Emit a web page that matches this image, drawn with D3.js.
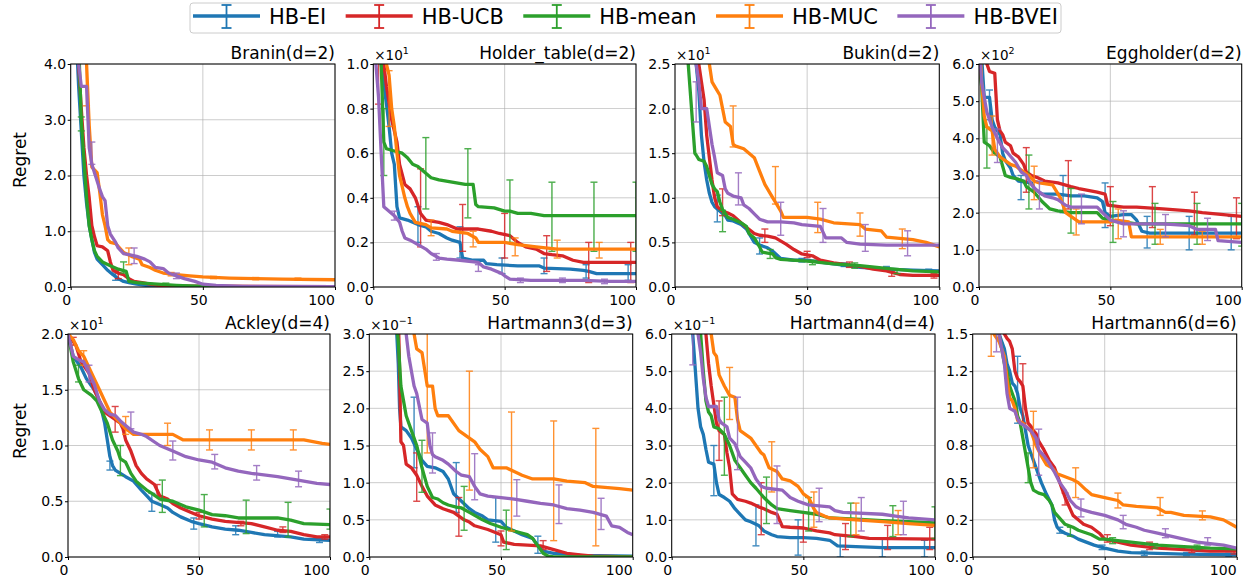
<!DOCTYPE html>
<html><head><meta charset="utf-8">
<script src="https://cdn.jsdelivr.net/npm/d3@7"></script>
<style>body{margin:0;background:#fff}</style>
</head><body>
<script>
// ---------- data ----------
const seriesNames = ["HB-EI","HB-UCB","HB-mean","HB-MUC","HB-BVEI"];
const seriesColors = ["#1f77b4","#d62728","#2ca02c","#ff7f0e","#9467bd"];
const panelTitles = ["Branin(d=2)","Holder_table(d=2)","Bukin(d=2)","Eggholder(d=2)","Ackley(d=4)","Hartmann3(d=3)","Hartmann4(d=4)","Hartmann6(d=6)"];
const panelYMax = [4, 1, 2.5, 6, 2, 3, 6, 1.5];
const panelYTicks = [[0,1,2,3,4],[0,.2,.4,.6,.8,1],[0,.5,1,1.5,2,2.5],[0,1,2,3,4,5,6],[0,.5,1,1.5,2],[0,.5,1,1.5,2,2.5,3],[0,1,2,3,4,5,6],[0,.25,.5,.75,1,1.25,1.5]];
const hartmann6TickLabels = ["0.0","0.2","0.5","0.8","1.0","1.2","1.5"];
const panelOffsetExp = [null,"1","1","2","1","\u22121","\u22121",null];
const xTicks = [0,50,100];
const yLabelText = "Regret";

// line data: [iteration, regret] ; order EI, UCB, mean, MUC, BVEI
const braninLines = [
 [[0,9],[2,4.6],[3,3.6],[4,2.8],[5,2.0],[6,1.5],[7,1.1],[8,0.85],[9,0.62],[10,0.5],[12,0.4],[14,0.3],[16,0.22],[18,0.15],[20,0.1],[22,0.08],[25,0.05],[30,0.02],[40,0.01],[100,0.005]],
 [[0,9],[2,5],[3,4],[4,3.2],[5,2.5],[6,2.0],[7,1.6],[8,1.1],[9,0.9],[10,0.74],[12,0.72],[14,0.65],[15,0.45],[16,0.3],[18,0.25],[20,0.22],[22,0.15],[24,0.1],[27,0.08],[30,0.05],[35,0.02],[100,0.005]],
 [[0,9],[3,4.4],[4,3.0],[5,2.3],[6,1.6],[7,1.1],[8,0.85],[9,0.65],[10,0.55],[12,0.45],[15,0.38],[18,0.32],[21,0.28],[22,0.1],[25,0.08],[30,0.06],[40,0.03],[50,0.01],[100,0.005]],
 [[0,12],[5,4.6],[6,4.0],[7,2.9],[8,2.15],[10,2.05],[11,1.7],[12,1.3],[13,1.1],[14,0.85],[15,0.8],[17,0.78],[20,0.62],[23,0.55],[26,0.5],[27,0.4],[30,0.35],[32,0.3],[35,0.25],[40,0.22],[45,0.2],[50,0.18],[60,0.16],[70,0.15],[80,0.14],[100,0.13]],
 [[0,9],[3,4.0],[4,3.6],[6,3.6],[7,2.5],[8,2.2],[9,2.05],[10,1.9],[11,1.75],[12,1.62],[13,1.55],[14,1.1],[15,0.95],[17,0.8],[18,0.7],[20,0.6],[22,0.58],[25,0.55],[28,0.5],[30,0.45],[32,0.35],[35,0.33],[37,0.25],[40,0.2],[43,0.15],[47,0.1],[50,0.05],[55,0.03],[65,0.01],[100,0.005]]
];
// error bars: [iteration, low, high]
const braninErrors = [
 [[17,0.12,0.25]],
 [[18,0.15,0.3],[34,0,0.03]],
 [[4,2.8,3.05],[20,0.25,0.45],[36,0.03,0.07]],
 [[6,3.25,4.8],[22,0.4,0.7],[38,0.2,0.26],[54,0.15,0.19],[70,0.13,0.17],[86,0.12,0.16]],
 [[8,2.2,2.6],[24,0.42,0.7],[40,0.15,0.25],[56,0.02,0.04]]
];

const holderLines = [
 [[0,2],[2,1.2],[3,1.0],[5,0.82],[6,0.72],[7,0.6],[8,0.55],[9,0.36],[10,0.31],[13,0.3],[15,0.29],[17,0.28],[20,0.27],[22,0.25],[25,0.24],[28,0.22],[30,0.21],[33,0.2],[34,0.13],[38,0.12],[42,0.12],[43,0.105],[47,0.1],[55,0.095],[63,0.095],[65,0.085],[75,0.08],[80,0.075],[82,0.07],[85,0.06],[100,0.06]],
 [[0,2],[3,1.1],[4,1.0],[5,0.9],[7,0.75],[8,0.7],[9,0.65],[10,0.55],[12,0.46],[14,0.44],[16,0.4],[18,0.33],[20,0.3],[25,0.29],[28,0.28],[32,0.26],[40,0.26],[45,0.25],[48,0.24],[52,0.23],[55,0.2],[58,0.18],[62,0.17],[65,0.15],[68,0.145],[72,0.14],[76,0.12],[80,0.11],[100,0.11]],
 [[0,2],[2,1.2],[3,1.0],[4,0.65],[5,0.62],[8,0.61],[11,0.6],[13,0.58],[15,0.55],[17,0.54],[20,0.51],[22,0.49],[25,0.48],[30,0.47],[35,0.46],[38,0.46],[39,0.37],[40,0.36],[46,0.355],[50,0.34],[52,0.34],[55,0.33],[60,0.33],[65,0.32],[100,0.32]],
 [[0,2],[4,1.1],[5,1.0],[6,0.95],[7,0.8],[8,0.72],[9,0.6],[10,0.5],[11,0.45],[12,0.4],[13,0.36],[14,0.33],[16,0.29],[20,0.28],[22,0.265],[28,0.26],[30,0.25],[36,0.24],[39,0.22],[40,0.2],[50,0.2],[55,0.19],[62,0.18],[70,0.17],[100,0.17]],
 [[0,1.5],[1,1.0],[2,0.85],[3,0.6],[4,0.36],[5,0.35],[6,0.34],[8,0.32],[10,0.29],[11,0.25],[12,0.22],[14,0.21],[17,0.19],[20,0.17],[22,0.15],[25,0.13],[28,0.125],[33,0.12],[40,0.11],[42,0.09],[45,0.08],[49,0.06],[50,0.05],[52,0.035],[60,0.03],[70,0.03],[80,0.03],[90,0.025],[100,0.025]]
];
const holderErrors = [
 [[17,0.2,0.36],[33,0.13,0.27],[49,0.06,0.13],[65,0.06,0.13],[81,0.04,0.1],[97,0.03,0.1]],
 [[2,0.82,1.1],[18,0.18,0.53],[34,0.16,0.37],[50,0.13,0.33],[66,0.07,0.23],[82,0.02,0.2],[98,0.02,0.2]],
 [[4,0.5,0.8],[20,0.35,0.67],[36,0.31,0.62],[52,0.2,0.48],[68,0.16,0.47],[84,0.16,0.47],[100,0.16,0.47]],
 [[6,0.72,0.97],[22,0.23,0.3],[38,0.18,0.25],[54,0.14,0.22],[70,0.13,0.21],[86,0.13,0.2]],
 [[8,0.3,0.34],[24,0.12,0.15],[40,0.07,0.1],[56,0.02,0.04],[72,0.02,0.04],[88,0.015,0.035]]
];

const bukinLines = [
 [[0,5],[7,2.7],[8,2.5],[9,2.2],[10,1.7],[11,1.4],[12,1.2],[13,1.05],[14,0.95],[15,0.9],[17,0.85],[19,0.8],[20,0.75],[22,0.74],[25,0.7],[27,0.65],[28,0.6],[30,0.5],[32,0.47],[35,0.44],[37,0.4],[40,0.32],[45,0.3],[50,0.3],[55,0.28],[60,0.26],[70,0.22],[80,0.2],[90,0.19],[100,0.18]],
 [[0,5],[8,2.7],[9,2.5],[10,2.3],[11,2.1],[12,1.7],[13,1.45],[14,1.2],[15,1.0],[16,0.9],[18,0.85],[20,0.83],[22,0.8],[25,0.72],[27,0.67],[30,0.6],[32,0.58],[35,0.57],[38,0.55],[42,0.48],[45,0.42],[48,0.37],[52,0.35],[55,0.3],[60,0.27],[65,0.25],[70,0.23],[75,0.2],[80,0.18],[85,0.14],[90,0.13],[100,0.13]],
 [[0,5],[4,2.8],[5,2.5],[6,2.1],[7,1.7],[7.5,1.5],[8,1.48],[9,1.43],[11,1.41],[12,1.35],[13,1.25],[14,1.15],[15,1.1],[16,1.07],[17,0.95],[18,0.87],[20,0.78],[22,0.76],[25,0.72],[27,0.68],[28,0.6],[30,0.55],[32,0.45],[33,0.39],[35,0.38],[37,0.37],[38,0.33],[40,0.31],[50,0.29],[60,0.26],[70,0.24],[80,0.21],[90,0.18],[100,0.17]],
 [[0,6],[12,2.8],[13,2.5],[14,2.3],[15,2.25],[17,2.15],[18,2.0],[19,1.85],[21,1.8],[22,1.6],[23,1.58],[26,1.55],[28,1.5],[30,1.45],[32,1.3],[34,1.15],[35,1.1],[37,1.0],[38,0.95],[40,0.85],[41,0.78],[50,0.78],[55,0.76],[60,0.72],[70,0.7],[72,0.65],[78,0.63],[80,0.56],[90,0.53],[95,0.5],[100,0.45]],
 [[0,5],[7,2.7],[8,2.5],[9,2.3],[10,2.0],[12,2.0],[13,1.8],[14,1.6],[15,1.45],[16,1.28],[18,1.25],[19,1.1],[20,1.05],[22,1.02],[25,1.0],[26,0.92],[28,0.88],[30,0.82],[32,0.76],[35,0.73],[40,0.73],[45,0.72],[48,0.7],[55,0.68],[57,0.55],[60,0.55],[63,0.55],[65,0.5],[70,0.48],[80,0.47],[100,0.47]]
];
const bukinErrors = [
 [[16,0.73,1.03],[32,0.37,0.55],[48,0.28,0.32],[64,0.23,0.27],[80,0.2,0.23],[96,0.17,0.2]],
 [[18,0.8,1.1],[34,0.5,0.65],[50,0.33,0.4],[66,0.22,0.28],[82,0.12,0.17],[98,0.1,0.15]],
 [[18,0.62,0.86],[36,0.32,0.42],[52,0.25,0.3],[68,0.21,0.27],[84,0.15,0.2]],
 [[22,1.57,2.03],[38,0.93,1.35],[54,0.61,0.95],[70,0.57,0.83],[86,0.43,0.65]],
 [[8,1.85,2.3],[24,0.92,1.28],[40,0.58,0.95],[56,0.5,0.88],[72,0.4,0.7],[88,0.35,0.63]]
];

const eggLines = [
 [[0,8],[1,6.2],[2,5.1],[4,5.1],[5,4.5],[6,4.3],[8,4.1],[9,3.6],[10,3.4],[12,3.2],[13,3.0],[15,2.85],[20,2.8],[21,2.65],[24,2.5],[30,2.5],[35,2.45],[40,2.45],[45,2.4],[47,2.3],[48,2.0],[50,1.9],[55,1.95],[58,1.95],[60,1.8],[62,1.5],[65,1.45],[100,1.45]],
 [[0,8],[3,6.0],[4,5.8],[6,5.75],[7,4.5],[8,4.2],[9,4.1],[10,3.9],[12,3.8],[13,3.6],[15,3.5],[17,3.3],[18,3.1],[20,3.0],[22,2.95],[25,2.85],[30,2.8],[35,2.7],[38,2.65],[45,2.55],[48,2.5],[49,2.2],[55,2.15],[60,2.15],[70,2.1],[80,2.05],[85,2.0],[100,1.9]],
 [[0,6],[1,5.4],[2,3.9],[4,3.8],[6,3.6],[8,3.5],[9,3.25],[10,3.0],[12,2.95],[15,2.9],[17,2.85],[18,2.7],[21,2.55],[24,2.3],[27,2.1],[30,2.05],[35,2.0],[45,2.0],[47,1.85],[50,1.8],[60,1.7],[100,1.7]],
 [[0,7],[1,5.5],[2,4.6],[3,4.3],[5,4.2],[6,3.7],[8,3.5],[10,3.4],[12,3.3],[14,3.25],[17,3.1],[19,3.0],[21,2.85],[23,2.8],[28,2.75],[31,2.4],[33,2.0],[35,1.9],[38,1.75],[50,1.75],[52,1.8],[57,1.75],[58,1.35],[100,1.35]],
 [[0,6.5],[1,5.5],[3,4.7],[5,4.3],[7,4.0],[9,3.75],[11,3.6],[14,3.35],[16,3.1],[18,3.0],[20,2.75],[22,2.6],[25,2.45],[28,2.4],[30,2.35],[33,2.2],[35,2.15],[45,2.15],[47,2.0],[50,1.8],[55,1.7],[70,1.7],[80,1.65],[83,1.55],[90,1.55],[91,1.25],[100,1.2]]
];
const eggErrors = [
 [[4,4.5,5.3],[16,2.35,3.0],[32,2.0,3.0],[48,1.6,2.8],[64,1.05,1.9],[80,1.0,1.9],[96,1.0,1.9]],
 [[18,2.55,3.75],[34,2.1,3.4],[50,1.65,2.7],[66,1.6,2.7],[82,1.4,2.55],[98,1.3,2.4]],
 [[3,3.2,4.3],[19,2.1,3.55],[35,1.45,2.65],[51,1.2,2.3],[67,1.15,2.25],[83,1.15,2.25],[100,1.1,2.25]],
 [[5,3.55,4.6],[21,2.35,3.25],[37,1.4,2.1],[53,1.3,2.1],[69,1.15,1.55],[85,1.15,1.5]],
 [[7,3.35,4.25],[23,2.1,2.85],[39,1.7,2.5],[55,1.35,2.05],[71,1.35,1.95],[87,1.25,1.85]]
];

const ackleyLines = [
 [[0,2.0],[2,1.8],[5,1.7],[7,1.6],[10,1.5],[12,1.4],[13,1.3],[14,1.2],[15,1.05],[16,0.9],[17,0.82],[18,0.78],[20,0.75],[22,0.72],[25,0.68],[28,0.6],[30,0.55],[32,0.5],[35,0.47],[38,0.44],[40,0.4],[43,0.36],[47,0.32],[50,0.3],[55,0.27],[60,0.25],[65,0.24],[70,0.22],[75,0.2],[85,0.18],[90,0.16],[100,0.15]],
 [[0,2.0],[3,1.9],[5,1.75],[8,1.65],[10,1.5],[12,1.4],[14,1.3],[17,1.25],[20,1.2],[21,1.15],[22,1.05],[24,0.95],[26,0.82],[28,0.75],[30,0.7],[33,0.65],[35,0.55],[38,0.52],[40,0.48],[43,0.44],[47,0.4],[50,0.37],[55,0.34],[60,0.32],[70,0.3],[75,0.27],[80,0.24],[85,0.23],[90,0.2],[95,0.18],[100,0.18]],
 [[0,2.0],[2,1.75],[4,1.6],[6,1.5],[9,1.45],[11,1.4],[13,1.3],[15,1.2],[17,1.05],[19,0.95],[20,0.88],[22,0.85],[24,0.75],[26,0.68],[28,0.64],[30,0.6],[32,0.57],[35,0.52],[40,0.5],[45,0.45],[50,0.42],[55,0.38],[60,0.37],[65,0.35],[80,0.35],[85,0.33],[90,0.3],[100,0.29]],
 [[0,2.0],[2,1.95],[4,1.85],[6,1.8],[8,1.7],[10,1.6],[12,1.5],[14,1.4],[16,1.3],[18,1.25],[20,1.2],[22,1.15],[25,1.1],[40,1.1],[44,1.05],[90,1.05],[97,1.02],[100,1.01]],
 [[0,2.0],[2,1.8],[4,1.77],[6,1.75],[8,1.65],[10,1.55],[12,1.4],[14,1.32],[16,1.28],[18,1.27],[20,1.22],[22,1.18],[25,1.12],[28,1.1],[30,1.08],[35,1.0],[40,0.95],[45,0.9],[50,0.87],[55,0.85],[60,0.8],[65,0.77],[70,0.75],[80,0.72],[85,0.7],[90,0.68],[95,0.66],[100,0.65]]
];
const ackleyErrors = [
 [[16,0.78,0.86],[32,0.41,0.57],[48,0.25,0.35],[64,0.2,0.28],[80,0.18,0.23],[96,0.13,0.17]],
 [[2,1.9,1.97],[18,1.12,1.35],[34,0.55,0.65],[50,0.34,0.4],[66,0.28,0.32],[82,0.22,0.27],[98,0.16,0.2]],
 [[4,1.57,1.72],[20,0.73,1.0],[36,0.4,0.69],[52,0.27,0.56],[68,0.21,0.51],[84,0.18,0.49],[100,0.25,0.43]],
 [[6,1.72,1.85],[22,1.1,1.26],[38,1.0,1.2],[54,0.96,1.14],[70,0.96,1.14],[86,0.96,1.14]],
 [[8,1.57,1.72],[24,1.15,1.3],[40,0.87,1.04],[56,0.79,0.92],[72,0.69,0.82],[88,0.63,0.77]]
];

const hart3Lines = [
 [[0,6],[10,3.3],[11,2.6],[11.5,2.0],[12,1.75],[14,1.7],[16,1.6],[18,1.45],[20,1.3],[22,1.22],[25,1.2],[28,1.15],[30,1.05],[32,0.85],[35,0.75],[38,0.65],[40,0.6],[43,0.55],[45,0.5],[50,0.48],[52,0.4],[55,0.35],[58,0.3],[62,0.25],[64,0.15],[66,0.08],[70,0.05],[75,0.04],[80,0.02],[100,0.01]],
 [[0,6],[11,3.3],[11.5,2.5],[12,1.55],[13,1.5],[14,1.25],[16,1.2],[18,1.1],[20,0.95],[22,0.82],[25,0.7],[28,0.65],[32,0.6],[34,0.55],[36,0.5],[38,0.47],[40,0.42],[45,0.37],[50,0.3],[51,0.2],[55,0.17],[60,0.16],[65,0.15],[70,0.1],[75,0.05],[80,0.03],[85,0.01],[100,0]],
 [[0,6],[10,3.3],[11,2.9],[12,2.3],[13,2.1],[14,1.9],[16,1.7],[18,1.5],[20,1.2],[22,0.95],[24,0.8],[26,0.78],[28,0.73],[30,0.7],[33,0.67],[35,0.66],[38,0.6],[40,0.56],[43,0.5],[46,0.45],[50,0.4],[53,0.37],[56,0.34],[60,0.3],[62,0.25],[64,0.15],[66,0.05],[68,0.01],[70,0],[100,0]],
 [[0,8],[16,3.3],[17,3.0],[18,2.8],[20,2.75],[22,2.3],[24,2.3],[25,2.0],[26,1.9],[30,1.9],[34,1.7],[38,1.6],[40,1.55],[42,1.45],[45,1.35],[47,1.2],[52,1.2],[55,1.15],[58,1.1],[62,1.05],[70,1.05],[75,1.02],[82,1.0],[85,0.95],[95,0.92],[100,0.9]],
 [[0,7],[13,3.3],[14,3.0],[15,2.7],[16,2.5],[17,2.3],[18,2.2],[20,1.85],[22,1.8],[23,1.5],[24,1.38],[25,1.35],[28,1.3],[30,1.25],[33,1.15],[35,1.1],[38,1.08],[40,0.95],[42,0.85],[45,0.82],[50,0.8],[55,0.78],[60,0.75],[65,0.72],[70,0.7],[75,0.65],[80,0.63],[85,0.6],[90,0.55],[92,0.42],[95,0.4],[98,0.33],[100,0.3]]
];
const hart3Errors = [
 [[17,1.2,2.15],[33,0.6,1.27],[48,0.2,0.8],[64,0.05,0.28]],
 [[18,0.75,1.4],[34,0.28,0.8],[50,0.15,0.35],[66,0.1,0.22]],
 [[20,0.87,1.57],[36,0.36,0.95],[52,0.1,0.63]],
 [[22,1.4,3.5],[38,0.9,2.5],[54,0.35,1.95],[70,0.22,1.83],[86,0.15,1.73]],
 [[24,1.13,1.67],[40,0.77,1.39],[56,0.55,1.04],[72,0.45,0.97],[88,0.37,0.79]]
];

const hart4Lines = [
 [[0,12],[7,6.8],[8,6.0],[9,5.0],[10,4.0],[11,3.5],[12,3.3],[13,2.9],[14,2.55],[16,2.5],[17,2.0],[18,1.68],[20,1.6],[22,1.5],[24,1.3],[26,1.15],[28,1.0],[30,0.95],[33,0.85],[35,0.7],[38,0.6],[40,0.55],[45,0.52],[50,0.52],[55,0.5],[60,0.45],[63,0.3],[70,0.28],[80,0.25],[100,0.25]],
 [[0,12],[12,6.5],[13,6.0],[14,5.2],[15,4.6],[16,4.1],[17,3.6],[18,3.4],[20,3.3],[21,2.8],[22,2.4],[23,1.7],[25,1.55],[28,1.5],[30,1.45],[33,1.35],[35,1.3],[38,1.2],[40,1.15],[42,0.82],[45,0.8],[50,0.78],[55,0.7],[60,0.65],[62,0.6],[70,0.55],[75,0.5],[100,0.48]],
 [[0,12],[10,6.5],[11,6.0],[12,5.0],[13,4.2],[14,3.9],[15,3.8],[16,3.5],[18,3.45],[20,3.3],[22,3.0],[24,2.6],[26,2.4],[28,2.2],[30,2.0],[32,1.85],[35,1.6],[38,1.4],[40,1.3],[45,1.25],[50,1.2],[55,1.15],[60,1.05],[70,1.02],[80,0.98],[90,0.95],[100,0.92]],
 [[0,12],[14,6.5],[15,6.0],[16,5.5],[17,5.4],[18,4.9],[20,4.6],[22,4.35],[24,4.3],[25,3.7],[26,3.4],[28,3.3],[30,3.2],[32,3.0],[34,2.8],[35,2.75],[37,2.4],[40,2.3],[42,2.1],[45,2.05],[48,1.9],[50,1.7],[52,1.6],[54,1.3],[55,1.2],[58,1.1],[60,1.05],[70,1.0],[80,0.95],[90,0.9],[100,0.85]],
 [[0,12],[9,6.5],[10,6.0],[11,5.5],[12,4.8],[13,4.3],[14,4.05],[17,4.05],[18,3.7],[19,3.6],[21,3.5],[22,3.2],[24,3.05],[26,2.7],[28,2.55],[30,2.4],[32,2.1],[34,1.9],[36,1.85],[42,1.8],[45,1.6],[48,1.5],[50,1.45],[52,1.4],[60,1.35],[62,1.25],[65,1.2],[80,1.15],[85,1.1],[90,1.05],[100,1.0]]
];
const hart4Errors = [
 [[16,1.65,3.0],[32,0.3,1.4],[48,0.05,1.0],[64,0,0.6],[80,0,0.5],[96,0,0.45]],
 [[18,2.6,4.2],[34,0.6,2.0],[50,0.4,1.2],[66,0.2,0.9],[82,0.2,0.85],[98,0.2,0.8]],
 [[20,2.2,4.3],[36,0.9,2.15],[52,0.7,1.6],[68,0.55,1.45],[84,0.55,1.38],[100,0.5,1.35]],
 [[22,3.7,5.1],[38,1.75,3.1],[54,0.8,1.75],[70,0.6,1.45],[86,0.6,1.25]],
 [[8,5.17,6.5],[25,2.35,4.3],[40,0.9,2.45],[56,0.95,1.85],[72,0.7,1.6],[88,0.6,1.5]]
];

const hart6Lines = [
 [[0,3],[9,1.6],[10,1.5],[11,1.45],[12,1.4],[13,1.3],[14,1.25],[15,1.17],[16,1.15],[17,1.1],[18,1.0],[19,0.95],[20,0.85],[21,0.75],[22,0.7],[23,0.65],[24,0.6],[25,0.55],[26,0.5],[28,0.42],[30,0.35],[31,0.25],[32,0.2],[33,0.18],[35,0.16],[38,0.14],[40,0.12],[43,0.1],[46,0.08],[50,0.06],[55,0.04],[60,0.03],[70,0.025],[80,0.02],[100,0.015]],
 [[0,3],[11,1.6],[12,1.5],[13,1.47],[14,1.45],[15,1.4],[16,1.25],[17,1.2],[18,1.18],[19,1.15],[20,1.0],[21,0.9],[22,0.88],[23,0.85],[24,0.83],[25,0.78],[27,0.72],[29,0.65],[31,0.6],[33,0.5],[35,0.4],[37,0.32],[38,0.28],[40,0.25],[42,0.22],[45,0.2],[48,0.16],[50,0.12],[55,0.1],[60,0.08],[70,0.06],[80,0.05],[90,0.04],[100,0.04]],
 [[0,3],[9,1.6],[10,1.5],[12,1.3],[13,1.25],[14,1.15],[15,1.1],[16,1.05],[17,0.95],[18,0.9],[19,0.8],[20,0.7],[21,0.6],[22,0.5],[23,0.45],[25,0.43],[27,0.42],[29,0.38],[30,0.35],[31,0.3],[32,0.28],[35,0.22],[38,0.2],[40,0.18],[45,0.15],[48,0.12],[50,0.12],[55,0.11],[60,0.1],[70,0.08],[80,0.07],[90,0.06],[100,0.055]],
 [[0,3],[6,1.6],[7,1.55],[8,1.5],[10,1.45],[12,1.35],[13,1.2],[14,1.07],[15,1.05],[16,1.0],[17,0.92],[19,0.9],[20,0.88],[22,0.85],[24,0.75],[26,0.68],[28,0.62],[30,0.6],[32,0.56],[35,0.54],[38,0.52],[40,0.5],[43,0.45],[45,0.42],[50,0.4],[55,0.38],[57,0.35],[62,0.34],[70,0.33],[73,0.3],[75,0.3],[80,0.28],[90,0.27],[95,0.25],[98,0.22],[100,0.2]],
 [[0,3],[9,1.6],[10,1.5],[11,1.4],[12,1.3],[13,1.1],[14,1.0],[16,0.98],[17,0.93],[18,0.9],[20,0.88],[22,0.85],[24,0.8],[25,0.72],[27,0.68],[29,0.63],[31,0.57],[33,0.5],[35,0.45],[37,0.38],[39,0.34],[41,0.32],[45,0.3],[50,0.28],[55,0.25],[58,0.22],[62,0.2],[65,0.18],[70,0.16],[75,0.14],[80,0.12],[85,0.1],[90,0.09],[95,0.08],[100,0.06]]
];
const hart6Errors = [
 [[17,0.9,1.35],[33,0.16,0.2],[49,0.05,0.08],[65,0.01,0.04],[81,0.01,0.03],[97,0.005,0.025]],
 [[19,0.9,1.3],[35,0.35,0.43],[51,0.1,0.15],[67,0.05,0.1],[83,0.03,0.07],[99,0.02,0.06]],
 [[21,0.5,0.7],[37,0.14,0.2],[53,0.09,0.13],[69,0.06,0.09],[85,0.05,0.08]],
 [[7,1.35,1.6],[23,0.6,0.98],[39,0.4,0.6],[55,0.33,0.43],[71,0.28,0.4],[87,0.25,0.31]],
 [[9,1.38,1.6],[25,0.55,0.86],[41,0.27,0.39],[57,0.19,0.28],[73,0.13,0.19],[89,0.08,0.13]]
];

const allLines = [braninLines, holderLines, bukinLines, eggLines, ackleyLines, hart3Lines, hart4Lines, hart6Lines];
const allErrors = [braninErrors, holderErrors, bukinErrors, eggErrors, ackleyErrors, hart3Errors, hart4Errors, hart6Errors];

// ---------- layout ----------
const W = 1256, H = 581;
const boxes = [
 [70.7,335,64,287],[373.3,636,64,287],[675,939.3,64,287],[979,1241.7,64,287],
 [68,330,334,557],[369.3,632.7,334,557],[671.7,935,334,557],[972.7,1236.7,334,557]
];
const FONT = "'DejaVu Sans', sans-serif";
const svg = d3.select("body").append("svg").attr("width", W).attr("height", H)
  .style("font-family", FONT);
svg.append("rect").attr("width", W).attr("height", H).attr("fill", "#fff");
const defs = svg.append("defs");

panelTitles.forEach((title, i) => {
  const [l, r, t, b] = boxes[i];
  const x = d3.scaleLinear().domain([0, 100]).range([l, r]);
  const y = d3.scaleLinear().domain([0, panelYMax[i]]).range([b, t]);
  const g = svg.append("g");

  // grid
  g.selectAll(".gx").data(xTicks).join("line")
    .attr("x1", d => x(d)).attr("x2", d => x(d)).attr("y1", t).attr("y2", b)
    .attr("stroke", "#b0b0b0").attr("stroke-width", 0.8).attr("opacity", 0.8);
  g.selectAll(".gy").data(panelYTicks[i]).join("line")
    .attr("x1", l).attr("x2", r).attr("y1", d => y(d)).attr("y2", d => y(d))
    .attr("stroke", "#b0b0b0").attr("stroke-width", 0.8).attr("opacity", 0.8);

  defs.append("clipPath").attr("id", "clip" + i).append("rect")
    .attr("x", l).attr("y", t).attr("width", r - l).attr("height", b - t);
  const plot = g.append("g").attr("clip-path", `url(#clip${i})`);

  const line = d3.line().x(d => x(d[0])).y(d => y(d[1]));
  allLines[i].forEach((s, k) => {
    const col = seriesColors[k];
    plot.append("path").datum(s).attr("d", line).attr("fill", "none")
      .attr("stroke", col).attr("stroke-width", 3.3).attr("stroke-linejoin", "round");
    const eg = plot.append("g").attr("stroke", col).attr("stroke-width", 1.4).attr("opacity", 0.85);
    allErrors[i][k].forEach(e => {
      const cx = x(e[0]);
      eg.append("line").attr("x1", cx).attr("x2", cx).attr("y1", y(e[1])).attr("y2", y(e[2]));
      eg.append("line").attr("x1", cx - 3.5).attr("x2", cx + 3.5).attr("y1", y(e[1])).attr("y2", y(e[1]));
      eg.append("line").attr("x1", cx - 3.5).attr("x2", cx + 3.5).attr("y1", y(e[2])).attr("y2", y(e[2]));
    });
  });

  // frame
  g.append("rect").attr("x", l).attr("y", t).attr("width", r - l).attr("height", b - t)
    .attr("fill", "none").attr("stroke", "#000").attr("stroke-width", 1);

  // axes
  const xLabelShift = [-4.5, -4.5, -14];
  const xa = g.append("g").attr("transform", `translate(0,${b})`)
    .call(d3.axisBottom(x).tickValues(xTicks).tickSize(3).tickPadding(5.5).tickFormat(d3.format("d")));
  xa.select(".domain").remove();
  xa.selectAll("text").attr("font-size", 14).attr("font-family", FONT).attr("fill", "#000")
    .attr("dx", (d, j) => xLabelShift[j]);
  xa.selectAll("line").attr("stroke", "#000");

  const yfmt = i === 7 ? ((d, j) => hartmann6TickLabels[j]) : d3.format(".1f");
  const ya = g.append("g").attr("transform", `translate(${l},0)`)
    .call(d3.axisLeft(y).tickValues(panelYTicks[i]).tickSize(3).tickPadding(1.5).tickFormat(yfmt));
  ya.select(".domain").remove();
  ya.selectAll("text").attr("font-size", 14).attr("font-family", FONT).attr("fill", "#000");
  ya.selectAll("line").attr("stroke", "#000");

  // title
  g.append("text").attr("x", r).attr("y", t - 5).attr("text-anchor", "end")
    .attr("font-size", 17).attr("fill", "#000").text(title);

  // offset text
  if (panelOffsetExp[i]) {
    const ot = g.append("text").attr("x", l + 1).attr("y", t - 4).attr("font-size", 13.5).attr("fill", "#000");
    ot.append("tspan").text("\u00d710");
    ot.append("tspan").attr("font-size", 9.5).attr("dy", -6).text(panelOffsetExp[i]);
  }
});

// y labels
[[20,160],[20,431]].forEach(([cx, cy]) => {
  svg.append("text").attr("transform", `translate(${cx},${cy}) rotate(-90)`)
    .attr("text-anchor", "middle").attr("dominant-baseline", "central")
    .attr("font-size", 17).attr("fill", "#000").text(yLabelText);
});

// legend
const legX0 = 190, legX1 = 1061, legY0 = 3, legY1 = 33;
const lg = svg.append("g");
lg.append("rect").attr("x", legX0).attr("y", legY0).attr("width", legX1 - legX0).attr("height", legY1 - legY0)
  .attr("rx", 3).attr("fill", "#fff").attr("stroke", "#cccccc").attr("stroke-width", 1);
const legFont = 21, handleLen = 67, handlePad = 9, borderPad = 3;
const measure = lg.append("text").attr("font-size", legFont).attr("visibility", "hidden");
const widths = seriesNames.map(n => { measure.text(n); return measure.node().getComputedTextLength(); });
measure.remove();
const total = widths.reduce((a, b) => a + b, 0) + seriesNames.length * (handleLen + handlePad);
const gap = (legX1 - legX0 - 2 * borderPad - total) / (seriesNames.length - 1);
let cursor = legX0 + borderPad;
const ly = 16;
seriesNames.forEach((n, k) => {
  const col = seriesColors[k];
  lg.append("line").attr("x1", cursor).attr("x2", cursor + handleLen).attr("y1", ly).attr("y2", ly)
    .attr("stroke", col).attr("stroke-width", 3.5);
  const cx = cursor + handleLen / 2;
  lg.append("line").attr("x1", cx).attr("x2", cx).attr("y1", 5).attr("y2", 28).attr("stroke", col).attr("stroke-width", 1.8);
  lg.append("line").attr("x1", cx - 5).attr("x2", cx + 5).attr("y1", 5).attr("y2", 5).attr("stroke", col).attr("stroke-width", 1.8);
  lg.append("line").attr("x1", cx - 5).attr("x2", cx + 5).attr("y1", 28).attr("y2", 28).attr("stroke", col).attr("stroke-width", 1.8);
  lg.append("text").attr("x", cursor + handleLen + handlePad).attr("y", 24).attr("font-size", legFont)
    .attr("fill", "#000").text(n);
  cursor += handleLen + handlePad + widths[k] + gap;
});
</script>
</body></html>
